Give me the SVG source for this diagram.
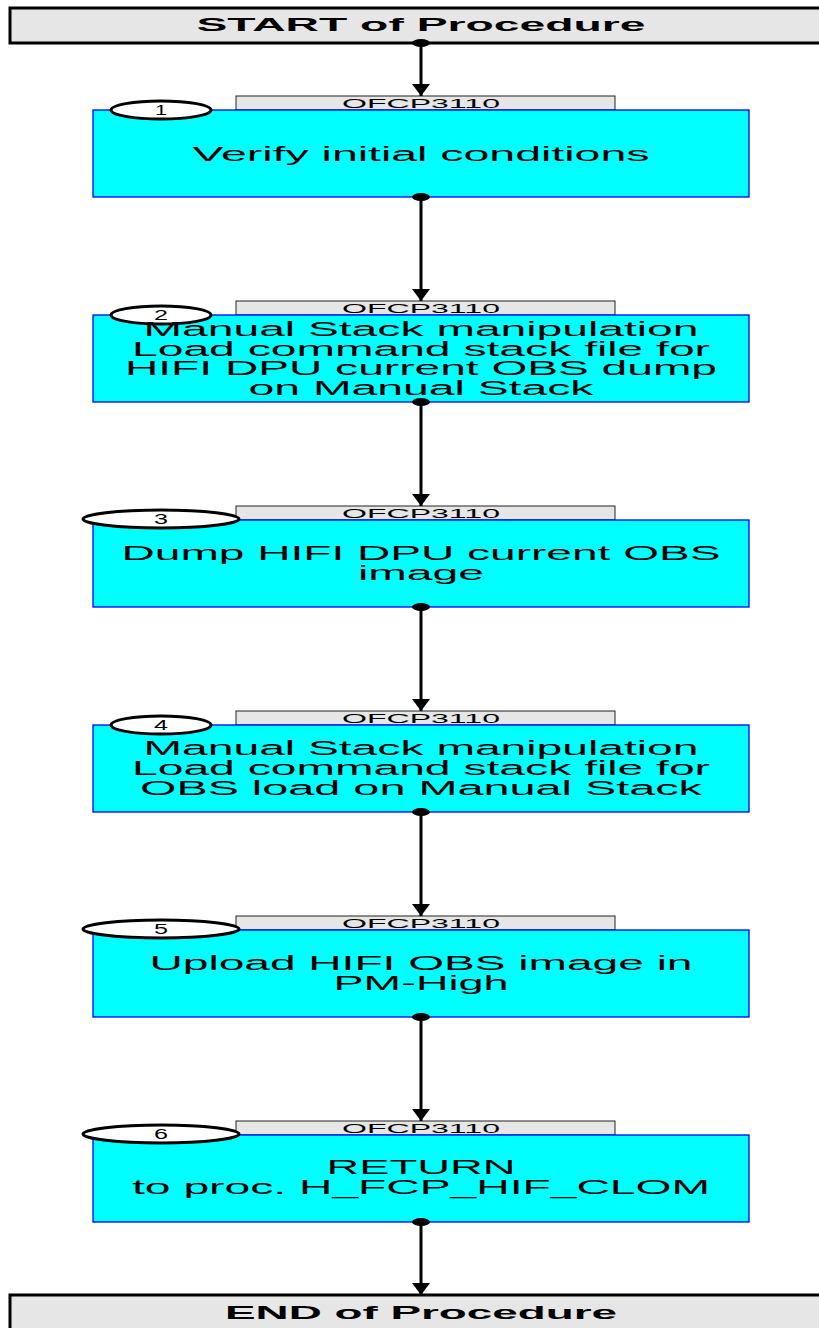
<svg xmlns="http://www.w3.org/2000/svg" width="819" height="1328" viewBox="0 0 819 1328">
<defs>
<style>
.term{fill:#e6e6e6;stroke:#000;stroke-width:3}
.termt{font-family:"Liberation Sans",Arial,sans-serif;font-weight:bold;font-size:19px;fill:#000;text-anchor:middle}
.box{fill:#00ffff;stroke:#0000ff;stroke-width:1.3}
.lab{fill:#e6e6e6;stroke:#222;stroke-width:1}
.labt{font-family:"Liberation Sans",Arial,sans-serif;font-size:13px;fill:#000;text-anchor:middle}
.num{fill:#fff;stroke:#000;stroke-width:3}
.numt{font-family:"Liberation Sans",Arial,sans-serif;font-size:14px;fill:#000;text-anchor:middle}
.t{font-family:"Liberation Sans",Arial,sans-serif;font-size:20px;fill:#000;text-anchor:middle}
.ln{stroke:#000;stroke-width:3;fill:none}
.dot{fill:#000}
</style>
<marker id="ah" markerWidth="12" markerHeight="18" refX="12" refY="9" orient="auto" markerUnits="userSpaceOnUse">
<path d="M0,0 L12,9 L0,18 Z" fill="#000"/>
</marker>
</defs>

<g id="start">
<rect class="term" x="10" y="8" width="830" height="35"/>
<text class="termt" x="421" y="31" textLength="449" lengthAdjust="spacingAndGlyphs">START of Procedure</text>
</g>

<g id="node1">
<rect class="lab" x="236" y="96" width="379" height="14"/>
<text class="labt" x="421" y="108" textLength="158" lengthAdjust="spacingAndGlyphs">OFCP3110</text>
<rect class="box" x="93" y="110" width="656" height="87"/>
<ellipse class="num" cx="161" cy="110" rx="50" ry="9"/>
<text class="numt" x="161" y="115" textLength="12" lengthAdjust="spacingAndGlyphs">1</text>
<text class="t" x="421" y="161" textLength="457" lengthAdjust="spacingAndGlyphs">Verify initial conditions</text>
</g>

<g id="node2">
<rect class="lab" x="236" y="301" width="379" height="14"/>
<text class="labt" x="421" y="313" textLength="158" lengthAdjust="spacingAndGlyphs">OFCP3110</text>
<rect class="box" x="93" y="315" width="656" height="87"/>
<ellipse class="num" cx="161" cy="315" rx="50" ry="9"/>
<text class="numt" x="161" y="320" textLength="14" lengthAdjust="spacingAndGlyphs">2</text>
<text class="t" x="421" y="336" textLength="555" lengthAdjust="spacingAndGlyphs">Manual Stack manipulation</text>
<text class="t" x="421" y="356" textLength="578" lengthAdjust="spacingAndGlyphs">Load command stack file for</text>
<text class="t" x="421" y="375" textLength="592" lengthAdjust="spacingAndGlyphs">HIFI DPU current OBS dump</text>
<text class="t" x="421" y="395" textLength="345" lengthAdjust="spacingAndGlyphs">on Manual Stack</text>
</g>

<g id="node3">
<rect class="lab" x="236" y="506" width="379" height="14"/>
<text class="labt" x="421" y="518" textLength="158" lengthAdjust="spacingAndGlyphs">OFCP3110</text>
<rect class="box" x="93" y="520" width="656" height="87"/>
<ellipse class="num" cx="161" cy="519" rx="78" ry="9"/>
<text class="numt" x="161" y="524" textLength="14" lengthAdjust="spacingAndGlyphs">3</text>
<text class="t" x="421" y="560" textLength="599" lengthAdjust="spacingAndGlyphs">Dump HIFI DPU current OBS</text>
<text class="t" x="421" y="580" textLength="126" lengthAdjust="spacingAndGlyphs">image</text>
</g>

<g id="node4">
<rect class="lab" x="236" y="711" width="379" height="14"/>
<text class="labt" x="421" y="723" textLength="158" lengthAdjust="spacingAndGlyphs">OFCP3110</text>
<rect class="box" x="93" y="725" width="656" height="87"/>
<ellipse class="num" cx="161" cy="725" rx="50" ry="9"/>
<text class="numt" x="161" y="730" textLength="14" lengthAdjust="spacingAndGlyphs">4</text>
<text class="t" x="421" y="755" textLength="555" lengthAdjust="spacingAndGlyphs">Manual Stack manipulation</text>
<text class="t" x="421" y="775" textLength="578" lengthAdjust="spacingAndGlyphs">Load command stack file for</text>
<text class="t" x="421" y="795" textLength="562" lengthAdjust="spacingAndGlyphs">OBS load on Manual Stack</text>
</g>

<g id="node5">
<rect class="lab" x="236" y="916" width="379" height="14"/>
<text class="labt" x="421" y="928" textLength="158" lengthAdjust="spacingAndGlyphs">OFCP3110</text>
<rect class="box" x="93" y="930" width="656" height="87"/>
<ellipse class="num" cx="161" cy="929" rx="78" ry="9"/>
<text class="numt" x="161" y="934" textLength="14" lengthAdjust="spacingAndGlyphs">5</text>
<text class="t" x="421" y="970" textLength="543" lengthAdjust="spacingAndGlyphs">Upload HIFI OBS image in</text>
<text class="t" x="421" y="990" textLength="175" lengthAdjust="spacingAndGlyphs">PM-High</text>
</g>

<g id="node6">
<rect class="lab" x="236" y="1121" width="379" height="14"/>
<text class="labt" x="421" y="1133" textLength="158" lengthAdjust="spacingAndGlyphs">OFCP3110</text>
<rect class="box" x="93" y="1135" width="656" height="87"/>
<ellipse class="num" cx="161" cy="1134" rx="78" ry="9"/>
<text class="numt" x="161" y="1139" textLength="14" lengthAdjust="spacingAndGlyphs">6</text>
<text class="t" x="421" y="1174" textLength="189" lengthAdjust="spacingAndGlyphs">RETURN</text>
<text class="t" x="421" y="1194" textLength="578" lengthAdjust="spacingAndGlyphs">to proc. H_FCP_HIF_CLOM</text>
</g>

<g id="end">
<rect class="term" x="10" y="1295" width="830" height="45"/>
<text class="termt" x="421" y="1319" textLength="392" lengthAdjust="spacingAndGlyphs">END of Procedure</text>
</g>

<g id="connectors">
<ellipse class="dot" cx="421" cy="43" rx="9" ry="4"/>
<line class="ln" x1="421" y1="43" x2="421" y2="96" marker-end="url(#ah)"/>
<ellipse class="dot" cx="421" cy="197" rx="9" ry="4"/>
<line class="ln" x1="421" y1="197" x2="421" y2="301" marker-end="url(#ah)"/>
<ellipse class="dot" cx="421" cy="402" rx="9" ry="4"/>
<line class="ln" x1="421" y1="402" x2="421" y2="506" marker-end="url(#ah)"/>
<ellipse class="dot" cx="421" cy="607" rx="9" ry="4"/>
<line class="ln" x1="421" y1="607" x2="421" y2="711" marker-end="url(#ah)"/>
<ellipse class="dot" cx="421" cy="812" rx="9" ry="4"/>
<line class="ln" x1="421" y1="812" x2="421" y2="916" marker-end="url(#ah)"/>
<ellipse class="dot" cx="421" cy="1017" rx="9" ry="4"/>
<line class="ln" x1="421" y1="1017" x2="421" y2="1121" marker-end="url(#ah)"/>
<ellipse class="dot" cx="421" cy="1222" rx="9" ry="4"/>
<line class="ln" x1="421" y1="1222" x2="421" y2="1295" marker-end="url(#ah)"/>
</g>
</svg>
